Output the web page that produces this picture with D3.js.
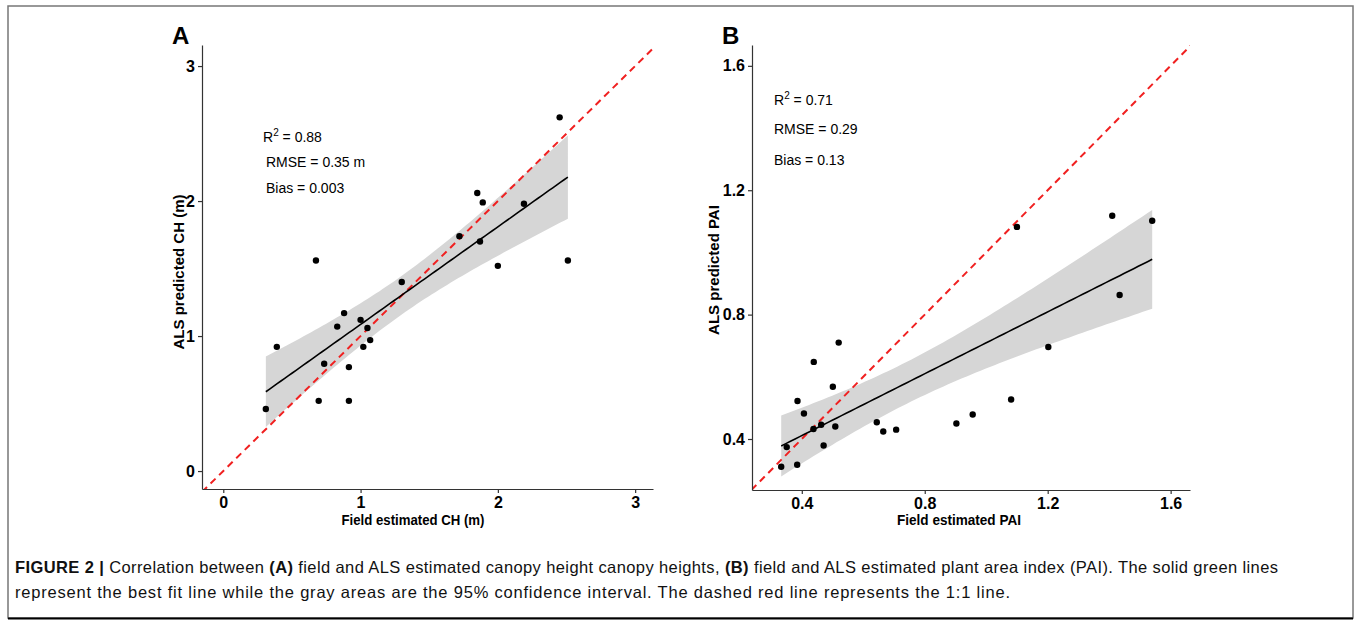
<!DOCTYPE html>
<html lang="en">
<head>
    <meta charset="UTF-8">
    <title>Figure 2</title>
    <script src="https://cdn.jsdelivr.net/npm/d3@7"></script>
    <style>
        body { margin: 0; background: #fff; }
        svg { display: block; }
        .tick text { font-family: "Liberation Sans", Arial, sans-serif; font-weight: bold; font-size: 16px; fill: #000; }
        .domain, .tick line { stroke: #333; stroke-width: 1.2; }
    </style>
</head>
<body>
<div id="grafico"></div>
<script type="text/javascript">

// Panel A: canopy height (m)
var fieldCH = [2.45, 1.85, 1.89, 2.19, 1.72, 1.87, 0.675, 2.51, 2.00, 1.30, 0.88,
               1.00, 0.83, 1.05, 0.39, 1.02, 1.07, 0.735, 0.915, 0.695, 0.915, 0.31];
var alsCH   = [2.62, 2.06, 1.99, 1.98, 1.74, 1.70, 1.56, 1.56, 1.52, 1.40, 1.17,
               1.12, 1.07, 1.06, 0.92, 0.92, 0.97, 0.795, 0.77, 0.52, 0.52, 0.46];
var ticksCH = [0, 1, 2, 3];
var domainCHx = [-0.155, 3.13];
var domainCHy = [-0.133, 3.156];
var statsA = ["R2 = 0.88", "RMSE = 0.35 m", "Bias = 0.003"];

// Panel B: plant area index
var fieldPAI = [1.10, 1.41, 1.54, 1.434, 1.202, 0.52, 0.439, 0.501, 0.386, 1.081, 0.407, 0.956,
                0.644, 0.903, 0.463, 0.509, 0.438, 0.707, 0.665, 0.351, 0.471, 0.333, 0.385];
var alsPAI   = [1.082, 1.118, 1.102, 0.863, 0.696, 0.71, 0.648, 0.568, 0.522, 0.527, 0.482, 0.479,
                0.454, 0.45, 0.446, 0.44, 0.432, 0.43, 0.424, 0.374, 0.379, 0.311, 0.317];
var ticksPAI = [0.4, 0.8, 1.2, 1.6];
var domainPAIx = [0.238, 1.663];
var domainPAIy = [0.236, 1.667];
var statsB = ["R2 = 0.71", "RMSE = 0.29", "Bias = 0.13"];

var w = 1356, h = 621;
var font = "'Liberation Sans', Arial, sans-serif";

var svg = d3.select("#grafico").append("svg")
    .attr("width", w).attr("height", h);

// outer frame
svg.append("rect").attr("x", 8).attr("y", 6).attr("width", 1345).attr("height", 612)
    .attr("fill", "none").attr("stroke", "#777").attr("stroke-width", 1.5);
svg.append("line").attr("x1", 8).attr("x2", 1353).attr("y1", 618.5).attr("y2", 618.5)
    .attr("stroke", "#000").attr("stroke-width", 2);

// linear fit with 95% confidence band
function fit(xs, ys, tval) {
    var n = xs.length;
    var mx = d3.mean(xs), my = d3.mean(ys);
    var sxx = d3.sum(xs, function(d) { return (d - mx) * (d - mx); });
    var sxy = d3.sum(xs, function(d, i) { return (d - mx) * (ys[i] - my); });
    var b = sxy / sxx, a = my - b * mx;
    var sse = d3.sum(xs, function(d, i) { var r = ys[i] - (a + b * d); return r * r; });
    var s = Math.sqrt(sse / (n - 2));
    var lo = d3.min(xs), hi = d3.max(xs);
    return d3.range(0, 81).map(function(k) {
        var x = lo + (hi - lo) * k / 80;
        var yhat = a + b * x;
        var se = s * Math.sqrt(1 / n + (x - mx) * (x - mx) / sxx);
        return { x: x, y: yhat, lo: yhat - tval * se, hi: yhat + tval * se };
    });
}

function panel(opt) {
    var x = d3.scaleLinear().domain(opt.dx).range([opt.left, opt.right]);
    var y = d3.scaleLinear().domain(opt.dy).range([opt.bottom, opt.top]);
    var g = svg.append("g");

    g.append("clipPath").attr("id", opt.id + "clip").append("rect")
        .attr("x", opt.left).attr("y", opt.top)
        .attr("width", opt.right - opt.left).attr("height", opt.bottom - opt.top);

    var band = fit(opt.xs, opt.ys, opt.t);

    g.append("path").datum(band)
        .attr("fill", "#d6d6d6")
        .attr("d", d3.area()
            .x(function(d) { return x(d.x); })
            .y0(function(d) { return y(d.lo); })
            .y1(function(d) { return y(d.hi); }));

    // 1:1 line
    var lo = Math.min(opt.dx[0], opt.dy[0]), hi = Math.max(opt.dx[1], opt.dy[1]);
    g.append("line")
        .attr("clip-path", "url(#" + opt.id + "clip)")
        .attr("x1", x(lo)).attr("y1", y(lo))
        .attr("x2", x(hi)).attr("y2", y(hi))
        .attr("stroke", "#f02020").attr("stroke-width", 2)
        .attr("stroke-dasharray", "7,5");

    g.append("path").datum(band)
        .attr("fill", "none").attr("stroke", "#000").attr("stroke-width", 1.6)
        .attr("d", d3.line()
            .x(function(d) { return x(d.x); })
            .y(function(d) { return y(d.y); }));

    g.selectAll("circle.pt")
        .data(opt.xs)
        .enter()
        .append("circle")
        .attr("class", "pt")
        .attr("cx", function(d) { return x(d); })
        .attr("cy", function(d, i) { return y(opt.ys[i]); })
        .attr("r", 3.2)
        .attr("fill", "#000");

    // axes
    g.append("g").attr("transform", "translate(0," + opt.bottom + ")")
        .call(d3.axisBottom(x).tickValues(opt.ticks).tickSize(4).tickPadding(4).tickSizeOuter(0)
            .tickFormat(opt.fmt));
    g.append("g").attr("transform", "translate(" + opt.left + ",0)")
        .call(d3.axisLeft(y).tickValues(opt.ticks).tickSize(4).tickPadding(3).tickSizeOuter(0)
            .tickFormat(opt.fmt));

    g.append("text")
        .attr("x", opt.xtMid).attr("y", 525)
        .attr("text-anchor", "middle")
        .attr("font-family", font).attr("font-weight", "bold").attr("font-size", "15.5px")
        .attr("textLength", opt.xtLen).attr("lengthAdjust", "spacingAndGlyphs")
        .text(opt.xtitle);

    g.append("text")
        .attr("transform", "translate(" + opt.ytX + "," + opt.ytMid + ") rotate(-90)")
        .attr("text-anchor", "middle")
        .attr("font-family", font).attr("font-weight", "bold").attr("font-size", "15px")
        .text(opt.ytitle);

    g.append("text")
        .attr("x", opt.left - 30).attr("y", 44)
        .attr("font-family", font).attr("font-weight", "bold").attr("font-size", "24px")
        .text(opt.label);

    // stats annotations
    opt.stats.forEach(function(s, i) {
        var t = g.append("text")
            .attr("x", opt.sx + (i === 0 ? 0 : opt.sdx)).attr("y", opt.sy[i])
            .attr("font-family", font).attr("font-size", "14px").attr("fill", "#000");
        if (s.indexOf("R2") === 0) {
            t.append("tspan").text("R");
            t.append("tspan").attr("dy", -6).attr("font-size", "10px").text("2");
            t.append("tspan").attr("dy", 6).text(s.slice(2));
        } else {
            t.text(s);
        }
    });
}

panel({
    id: "a", label: "A",
    xs: fieldCH, ys: alsCH, t: 2.086,
    dx: domainCHx, dy: domainCHy, ticks: ticksCH, fmt: d3.format("d"),
    left: 202, right: 653, top: 45, bottom: 489,
    xtitle: "Field estimated CH (m)", xtMid: 413, xtLen: 143,
    ytitle: "ALS predicted CH (m)", ytX: 184, ytMid: 272,
    stats: statsA, sx: 263, sdx: 3, sy: [142, 167, 193]
});

panel({
    id: "b", label: "B",
    xs: fieldPAI, ys: alsPAI, t: 2.080,
    dx: domainPAIx, dy: domainPAIy, ticks: ticksPAI, fmt: d3.format(".1f"),
    left: 752, right: 1190, top: 45, bottom: 490,
    xtitle: "Field estimated PAI", xtMid: 959, xtLen: 124,
    ytitle: "ALS predicted PAI", ytX: 719, ytMid: 270,
    stats: statsB, sx: 774, sdx: 0, sy: [105, 134, 165]
});

// caption
var cap = svg.append("text").attr("x", 15).attr("y", 573)
    .attr("font-family", font).attr("font-size", "16.5px").attr("fill", "#111")
    .attr("textLength", 1263).attr("lengthAdjust", "spacing");
cap.append("tspan").attr("font-weight", "bold").text("FIGURE 2 | ");
cap.append("tspan").text("Correlation between ");
cap.append("tspan").attr("font-weight", "bold").text("(A)");
cap.append("tspan").text(" field and ALS estimated canopy height canopy heights, ");
cap.append("tspan").attr("font-weight", "bold").text("(B)");
cap.append("tspan").text(" field and ALS estimated plant area index (PAI). The solid green lines");

svg.append("text").attr("x", 15).attr("y", 598)
    .attr("font-family", font).attr("font-size", "16.5px").attr("fill", "#111")
    .attr("textLength", 995).attr("lengthAdjust", "spacing")
    .text("represent the best fit line while the gray areas are the 95% confidence interval. The dashed red line represents the 1:1 line.");

</script>
</body>
</html>
